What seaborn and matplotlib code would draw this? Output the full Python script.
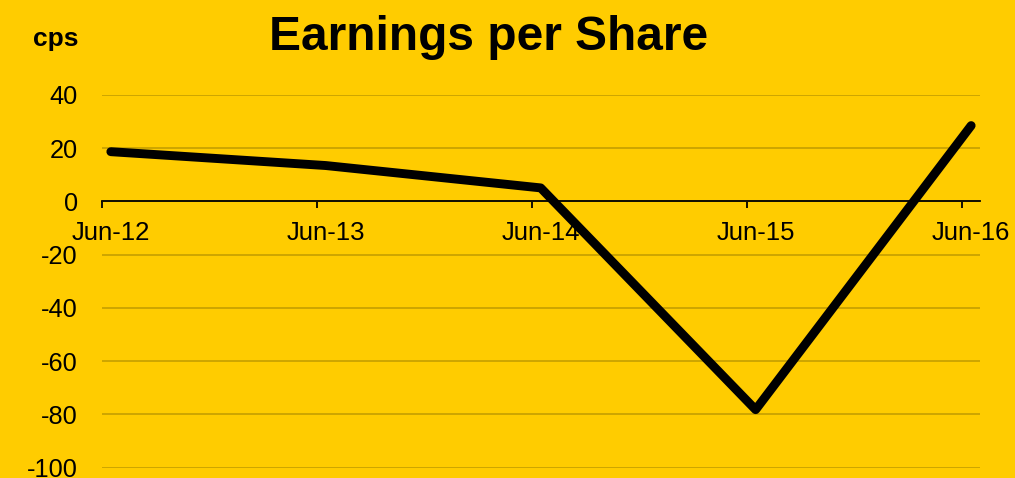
import matplotlib
matplotlib.use("Agg")
import matplotlib.pyplot as plt
import matplotlib.ticker as mticker
import seaborn as sns
import pandas as pd

# Data
periods = ["Jun-12", "Jun-13", "Jun-14", "Jun-15", "Jun-16"]
dates = ["2012-06-16", "2013-06-16", "2014-06-16", "2015-06-16", "2016-06-16"]
eps = [18.7, 13.5, 5.1, -78.2, 28.5]
y_ticks = [-100, -80, -60, -40, -20, 0, 20, 40]
year_starts = ["2012-06-01", "2013-06-01", "2014-06-01", "2015-06-01", "2016-06-01"]

bg = "#FFCC00"
grid_col = "#C9A200"

sns.set_style("white")
plt.rcParams['font.family'] = ['Liberation Sans', 'DejaVu Sans']

fig = plt.figure(figsize=(10.15, 4.78), dpi=100, facecolor=bg)
ax = fig.add_axes([0.1005, 0.0215, 0.865, 0.7798])
ax.set_facecolor(bg)

df = pd.DataFrame({"date": pd.to_datetime(dates), "eps": eps})
sns.lineplot(data=df, x="date", y="eps", ax=ax, color="black", linewidth=6.4,
             solid_capstyle="round", solid_joinstyle="round", zorder=3)

ax.set_ylim(-100, 40)
ax.set_xlim(pd.Timestamp("2012-06-01"), pd.Timestamp("2016-07-01"))
ax.set_xlabel("")
ax.set_ylabel("")

# x labels at data points, tick marks at year starts
ax.set_xticks(pd.to_datetime(dates))
ax.set_xticklabels(periods)
ax.set_xticks(pd.to_datetime(year_starts), minor=True)
ax.tick_params(axis='x', which='major', length=0, pad=14, labelsize=18.5, colors='black')
ax.tick_params(axis='x', which='minor', length=5, width=1.3, direction='out', color='black', bottom=True)

ax.set_yticks(y_ticks)
ax.yaxis.set_major_formatter(mticker.FuncFormatter(lambda v, p: f"{int(v)}"))
ax.tick_params(axis='y', length=0, pad=17.5, labelsize=18.3, colors='black')
ax.yaxis.grid(True, color=grid_col, linewidth=1.3)
ax.xaxis.grid(False)

for s in ['top', 'right', 'left']:
    ax.spines[s].set_visible(False)
ax.spines['bottom'].set_position(('data', 0))
ax.spines['bottom'].set_color('black')
ax.spines['bottom'].set_linewidth(1.3)

fig.text(0.481, 1 - 50 / 478, "Earnings per Share", ha='center', va='baseline',
         fontsize=34.5, fontweight='bold', color='black')
fig.text(33.3 / 1015, 1 - 45.7 / 478, "cps", ha='left', va='baseline',
         fontsize=19, fontweight='bold', color='black')

fig.savefig("out.png", dpi=100, facecolor=bg)
